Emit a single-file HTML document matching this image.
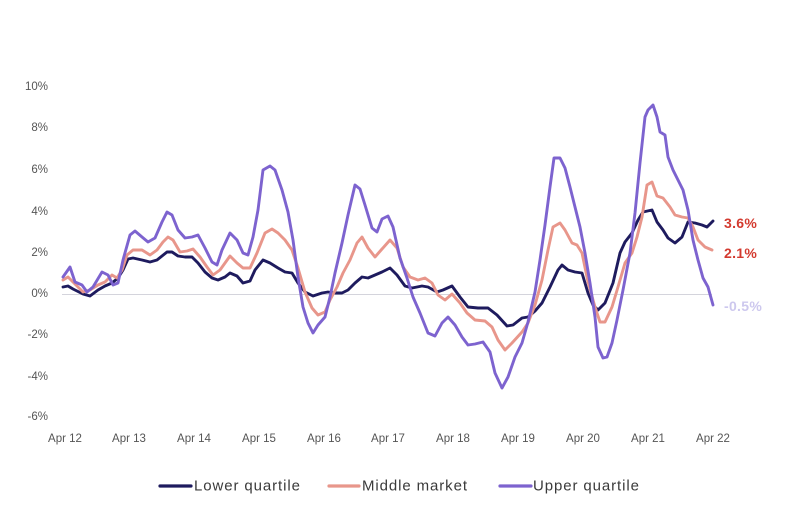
<!DOCTYPE html>
<html>
<head>
<meta charset="utf-8">
<style>
  html,body{margin:0;padding:0;background:#fff;}
  body{width:800px;height:512px;overflow:hidden;}
  svg{display:block;}
  .tick{font-family:"Liberation Sans",sans-serif;font-size:11.5px;fill:#555;}
  .leg{font-family:"Liberation Sans",sans-serif;font-size:15px;fill:#3a3a3a;letter-spacing:0.9px;}
  .end{font-family:"Liberation Sans",sans-serif;font-size:14px;font-weight:bold;letter-spacing:0.3px;}
</style>
</head>
<body>
<svg width="800" height="512" viewBox="0 0 800 512" xmlns="http://www.w3.org/2000/svg">
  <rect width="800" height="512" fill="#fff"/>
  <!-- y tick labels -->
  <g class="tick" text-anchor="end" dominant-baseline="central">
    <text x="48" y="87">10%</text>
    <text x="48" y="128">8%</text>
    <text x="48" y="170">6%</text>
    <text x="48" y="212">4%</text>
    <text x="48" y="253">2%</text>
    <text x="48" y="294">0%</text>
    <text x="48" y="335">-2%</text>
    <text x="48" y="377">-4%</text>
    <text x="48" y="417">-6%</text>
  </g>
  <!-- x tick labels -->
  <g class="tick" text-anchor="middle" dominant-baseline="central">
    <text x="65" y="439">Apr 12</text>
    <text x="129" y="439">Apr 13</text>
    <text x="194" y="439">Apr 14</text>
    <text x="259" y="439">Apr 15</text>
    <text x="324" y="439">Apr 16</text>
    <text x="388" y="439">Apr 17</text>
    <text x="453" y="439">Apr 18</text>
    <text x="518" y="439">Apr 19</text>
    <text x="583" y="439">Apr 20</text>
    <text x="648" y="439">Apr 21</text>
    <text x="713" y="439">Apr 22</text>
  </g>
  <!-- zero line -->
  <line x1="62" y1="294.5" x2="712" y2="294.5" stroke="#d4d4dc" stroke-width="1"/>

  <g fill="none" stroke-width="2.9" stroke-linejoin="round" stroke-linecap="round">
    <!-- Lower quartile -->
    <polyline stroke="#1e1b5e" points="63,287 68,286 73,289 83,294 90,296 98,290 105,286 112,283 118,278 123,270 128,259 133,258 142,260 150,262 157,260 162,256 167,252 172,252 178,256 185,257 192,257 198,263 205,272 212,278 218,280 225,277 230,273 237,276 243,283 250,281 255,270 263,260 270,263 278,268 285,272 292,273 298,283 305,292 313,296 322,293 328,292 335,293 342,293 348,290 355,283 362,277 368,278 375,275 382,272 390,268 397,275 405,286 412,288 422,286 428,287 437,292 443,290 452,286 460,297 468,307 478,308 488,308 497,315 507,326 513,325 522,318 528,317 535,311 542,303 550,287 558,270 562,265 568,270 575,272 582,273 588,293 593,305 598,310 605,303 613,283 620,253 625,242 632,233 638,220 643,212 652,210 657,222 663,230 668,238 675,243 682,237 688,222 695,223 702,225 707,227 713,221"/>
    <!-- Middle market -->
    <polyline stroke="#e8968b" points="63,280 68,277 73,282 83,292 90,290 98,285 105,282 112,275 117,278 122,270 127,255 133,250 142,250 150,255 157,250 163,242 168,237 173,240 180,252 187,251 193,249 200,257 207,267 213,275 220,270 230,256 237,263 243,268 250,268 257,253 265,233 272,229 278,233 285,240 292,250 298,268 305,292 312,308 318,315 325,312 330,300 337,287 343,273 350,260 357,243 362,237 368,248 375,257 382,249 390,240 397,248 403,267 410,277 418,280 425,278 432,283 438,295 445,300 452,294 460,303 467,313 475,320 485,321 492,327 498,340 505,350 512,343 522,332 528,323 535,305 542,280 548,250 553,227 560,223 565,230 572,243 577,245 582,253 588,282 595,307 600,322 605,322 612,307 618,287 625,263 632,253 637,237 642,217 647,185 652,182 657,196 663,198 670,207 675,215 682,217 688,218 693,227 698,240 705,247 712,250"/>
    <!-- Upper quartile -->
    <polyline stroke="#7d63cf" points="63,277 70,267 75,282 82,285 87,292 93,287 102,272 108,275 113,285 118,283 123,260 130,235 135,231 142,237 148,242 155,238 162,222 167,212 172,215 178,230 185,238 192,237 198,235 205,248 212,262 217,265 222,250 230,233 237,240 243,253 248,255 253,237 258,210 263,170 270,166 275,170 282,190 288,212 293,240 298,277 303,307 308,323 313,333 318,325 325,317 330,297 335,273 342,243 348,215 355,185 360,189 365,205 372,228 377,232 382,219 388,216 393,227 400,258 407,278 413,297 420,313 428,333 435,336 442,323 448,317 455,325 462,337 468,345 475,344 483,342 490,352 495,373 502,388 508,377 515,357 522,343 528,322 535,292 540,260 545,225 550,187 554,158 560,158 565,168 570,187 575,207 580,227 585,253 590,283 595,317 598,347 603,358 607,357 612,343 617,320 623,290 630,253 635,213 640,163 645,117 648,110 653,105 657,117 660,132 665,135 668,157 673,170 678,180 683,190 688,210 693,240 698,260 703,278 708,287 713,305"/>
  </g>

  <!-- end labels -->
  <g class="end" dominant-baseline="central">
    <text x="724" y="223" fill="#d33a2f">3.6%</text>
    <text x="724" y="253" fill="#d33a2f">2.1%</text>
    <text x="724" y="306" fill="#cdc8ee">-0.5%</text>
  </g>

  <!-- legend -->
  <g stroke-width="3.2" stroke-linecap="round">
    <line x1="160" y1="486" x2="191" y2="486" stroke="#1e1b5e"/>
    <line x1="329" y1="486" x2="359" y2="486" stroke="#e8968b"/>
    <line x1="500" y1="486" x2="531" y2="486" stroke="#7d63cf"/>
  </g>
  <g class="leg" dominant-baseline="central">
    <text x="194" y="486">Lower quartile</text>
    <text x="362" y="486">Middle market</text>
    <text x="533" y="486">Upper quartile</text>
  </g>
</svg>
</body>
</html>
